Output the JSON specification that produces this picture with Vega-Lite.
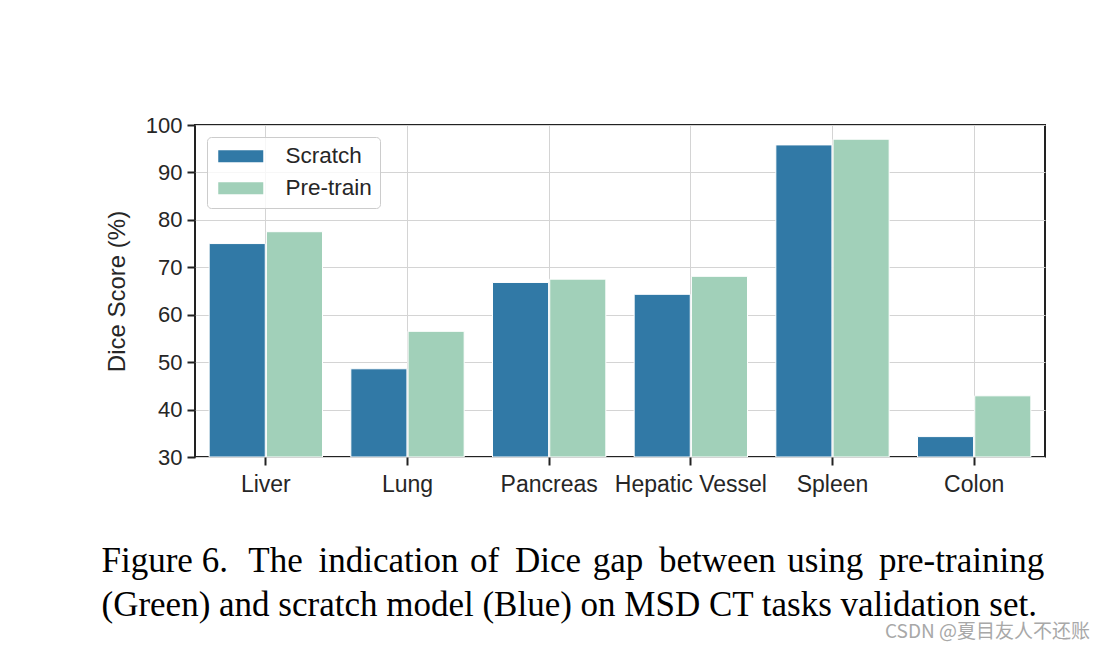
{
  "$schema": "https://vega.github.io/schema/vega-lite/v6.json",
  "width": 850,
  "height": 332,
  "autosize": {"type": "none"},
  "padding": {"left": 195, "top": 125, "right": 61, "bottom": 194},
  "background": "white",
  "title": {
    "text": "CSDN @夏目友人不还账",
    "orient": "bottom",
    "anchor": "end",
    "frame": "group",
    "font": "Noto Sans CJK SC",
    "fontSize": 19,
    "fontWeight": "normal",
    "color": "#a8a8a8",
    "offset": 1,
    "dx": 45
  },
  "data": {
    "values": [
      {"organ": "Liver", "model": "Scratch", "score": 75.0},
      {"organ": "Liver", "model": "Pre-train", "score": 77.5},
      {"organ": "Lung", "model": "Scratch", "score": 48.6},
      {"organ": "Lung", "model": "Pre-train", "score": 56.5},
      {"organ": "Pancreas", "model": "Scratch", "score": 66.8},
      {"organ": "Pancreas", "model": "Pre-train", "score": 67.5},
      {"organ": "Hepatic Vessel", "model": "Scratch", "score": 64.3},
      {"organ": "Hepatic Vessel", "model": "Pre-train", "score": 68.1},
      {"organ": "Spleen", "model": "Scratch", "score": 95.8},
      {"organ": "Spleen", "model": "Pre-train", "score": 97.0},
      {"organ": "Colon", "model": "Scratch", "score": 34.3},
      {"organ": "Colon", "model": "Pre-train", "score": 42.9}
    ]
  },
  "mark": {"type": "bar", "stroke": "white", "strokeWidth": 1, "clip": true},
  "encoding": {
    "x": {
      "field": "organ",
      "type": "nominal",
      "sort": ["Liver", "Lung", "Pancreas", "Hepatic Vessel", "Spleen", "Colon"],
      "scale": {"paddingInner": 0.2, "paddingOuter": 0.1},
      "axis": {
        "title": ["Figure 6.\u00a0 \u200aThe \u2009indication \u200aof \u2009Dice \u200agap \u2009between \u200ausing \u2009pre-training", "(Green) and scratch model (Blue) on MSD CT tasks validation set."],
        "titleX": -94,
        "titleY": 114,
        "titleAlign": "left",
        "titleBaseline": "alphabetic",
        "titleFont": "Liberation Serif",
        "titleFontSize": 35,
        "titleFontWeight": "normal",
        "titleColor": "#000000",
        "titleLineHeight": 44,
        "labelAngle": 0,
        "bandPosition": 0.5,
        "grid": true,
        "gridColor": "#d4d4d4",
        "gridWidth": 1,
        "domain": false,
        "ticks": true,
        "tickSize": 8,
        "tickWidth": 2,
        "tickColor": "#222222",
        "labelFont": "Liberation Sans",
        "labelFontSize": 23,
        "labelColor": "#262626",
        "labelPadding": 8
      }
    },
    "xOffset": {
      "field": "model",
      "type": "nominal",
      "sort": ["Scratch", "Pre-train"],
      "scale": {"paddingInner": 0.02}
    },
    "y": {
      "field": "score",
      "type": "quantitative",
      "scale": {"domain": [30, 100], "nice": false, "zero": false},
      "axis": {
        "title": "Dice Score (%)",
        "titleFont": "Liberation Sans",
        "titleFontSize": 24,
        "titleFontWeight": "normal",
        "titleColor": "#262626",
        "titlePadding": 16,
        "values": [30, 40, 50, 60, 70, 80, 90, 100],
        "grid": true,
        "gridColor": "#d4d4d4",
        "gridWidth": 1,
        "domain": false,
        "tickSize": 8,
        "tickWidth": 2,
        "tickColor": "#222222",
        "labelFont": "Liberation Sans",
        "labelFontSize": 22,
        "labelColor": "#262626",
        "labelPadding": 5
      }
    },
    "y2": {"datum": 30},
    "color": {
      "field": "model",
      "type": "nominal",
      "sort": ["Scratch", "Pre-train"],
      "scale": {"domain": ["Scratch", "Pre-train"], "range": ["#3179a6", "#a1d0b9"]},
      "legend": {
        "title": null,
        "orient": "top-left",
        "offset": 12,
        "padding": 8,
        "symbolType": "M-0.8,-0.6H3.7V0.6H-0.8Z",
        "symbolSize": 400,
        "symbolStrokeWidth": 0,
        "symbolOpacity": 1,
        "labelOffset": 48,
        "labelFont": "Liberation Sans",
        "labelFontSize": 22.5,
        "labelColor": "#262626",
        "rowPadding": 9,
        "strokeColor": "#cccccc",
        "fillColor": "rgba(255,255,255,0.8)",
        "cornerRadius": 4
      }
    }
  },
  "config": {
    "view": {"stroke": "#222222", "strokeWidth": 2}
  }
}
